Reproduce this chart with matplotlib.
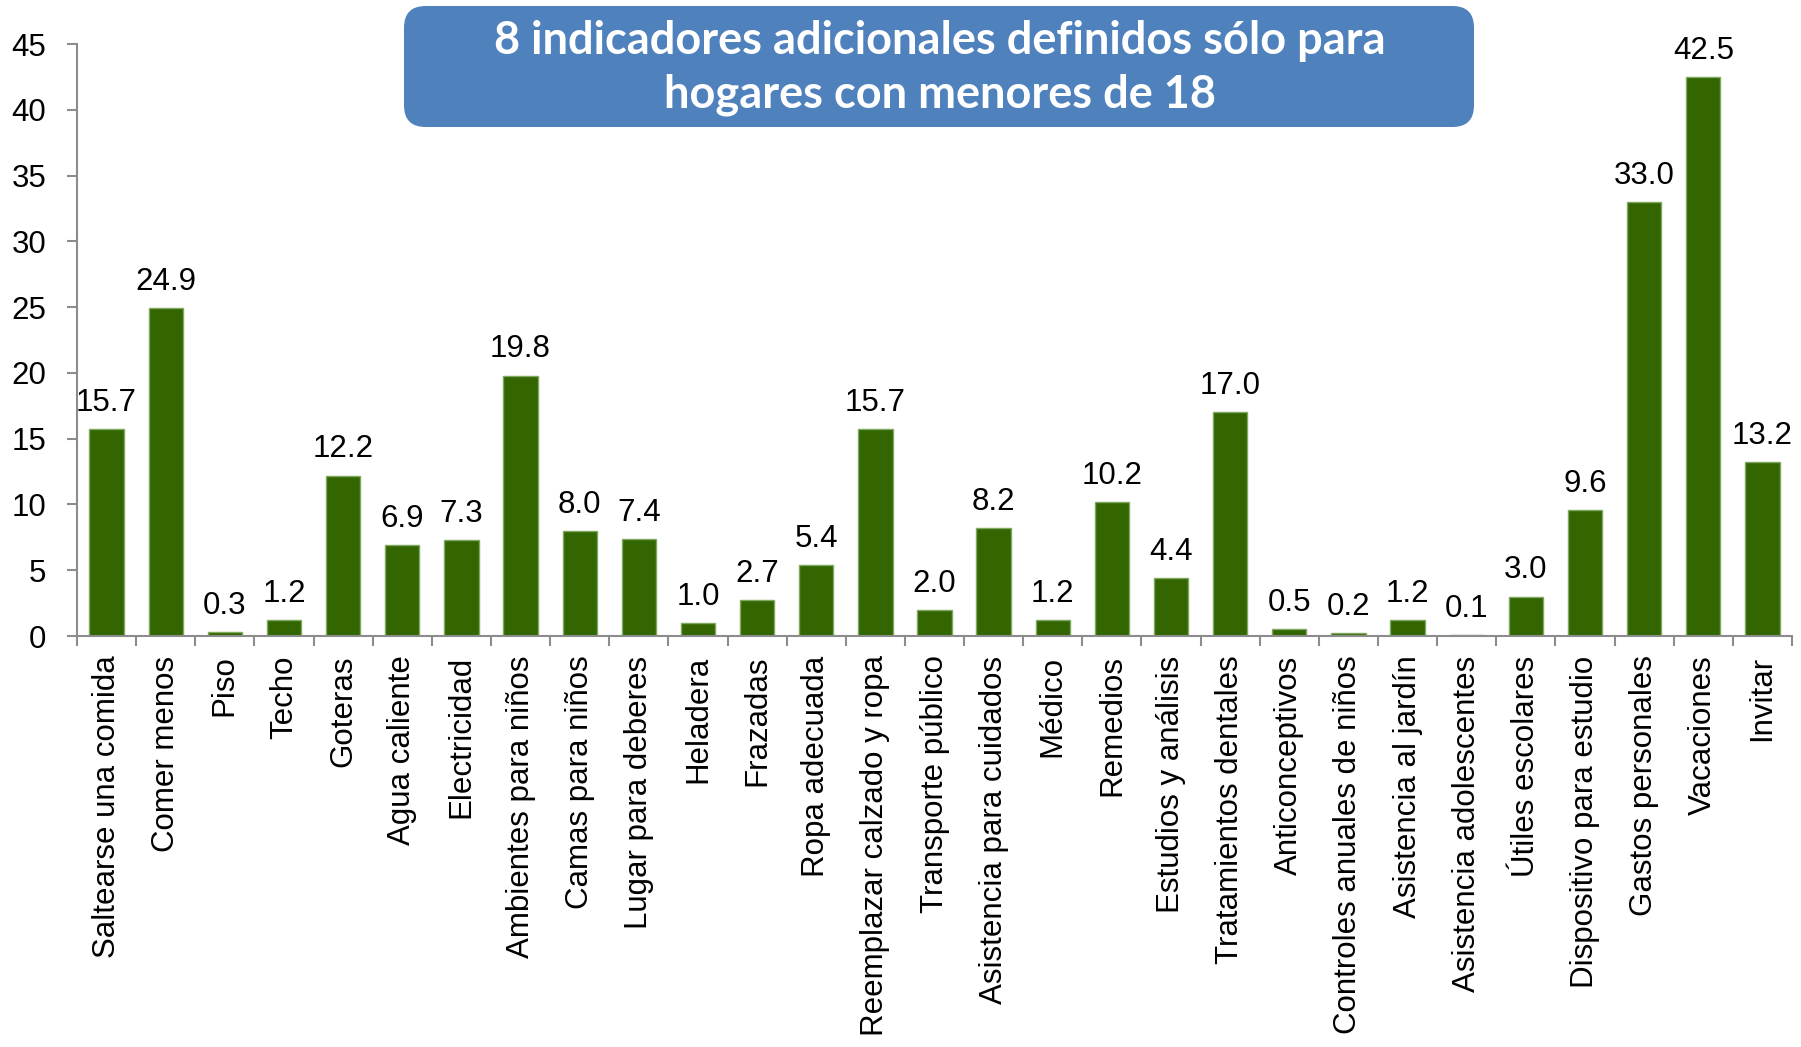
import numpy as np
from matplotlib import pyplot as plt
from matplotlib.patches import FancyBboxPatch

categorias = ['Saltearse una comida', 'Comer menos', 'Piso', 'Techo', 'Goteras',
              'Agua caliente', 'Electricidad', 'Ambientes para niños', 'Camas para niños',
              'Lugar para deberes', 'Heladera', 'Frazadas', 'Ropa adecuada',
              'Reemplazar calzado y ropa', 'Transporte público', 'Asistencia para cuidados',
              'Médico', 'Remedios', 'Estudios y análisis', 'Tratamientos dentales',
              'Anticonceptivos', 'Controles anuales de niños', 'Asistencia al jardín',
              'Asistencia adolescentes', 'Útiles escolares', 'Dispositivo para estudio',
              'Gastos personales', 'Vacaciones', 'Invitar']
valores = [15.7, 24.9, 0.3, 1.2, 12.2, 6.9, 7.3, 19.8, 8.0, 7.4, 1.0, 2.7, 5.4, 15.7,
           2.0, 8.2, 1.2, 10.2, 4.4, 17.0, 0.5, 0.2, 1.2, 0.1, 3.0, 9.6, 33.0, 42.5, 13.2]
yticks = [0, 5, 10, 15, 20, 25, 30, 35, 40, 45]
titulo = '8 indicadores adicionales definidos sólo para\nhogares con menores de 18'

plt.rcParams['font.family'] = ['Liberation Sans', 'DejaVu Sans']

fig = plt.figure(figsize=(18.01, 10.47), dpi=100)
ax = fig.add_axes([77 / 1801, 1 - 636 / 1047, (1792 - 77) / 1801, (636 - 44) / 1047])

x = np.arange(len(categorias))
bars = ax.bar(x, valores, width=0.58, color='#336600', edgecolor='#7fa860', linewidth=1)

for xi, v in zip(x, valores):
    ax.annotate('%.1f' % v, (xi, v), xytext=(0, 8), textcoords='offset points',
                ha='center', va='bottom', fontsize=22.5, color='black')

ax.set_xlim(-0.5, len(categorias) - 0.5)
ax.set_ylim(0, 45)
ax.set_yticks(yticks)
ax.set_xticks(np.arange(len(categorias) + 1) - 0.5, minor=False)
ax.set_xticklabels([])
ax.set_xticks(x, minor=True)
ax.set_xticklabels(categorias, minor=True, rotation=90, fontsize=22.5, va='top', ha='center')
ax.tick_params(axis='x', which='major', length=7, width=1.5, color='#8c8c8c', direction='out')
ax.tick_params(axis='x', which='minor', length=0, pad=14)
ax.tick_params(axis='y', length=7, width=1.5, color='#8c8c8c', labelsize=22.5, pad=15)

for s in ['top', 'right']:
    ax.spines[s].set_visible(False)
for s in ['left', 'bottom']:
    ax.spines[s].set_color('#8c8c8c')
    ax.spines[s].set_linewidth(1.5)

# caja del titulo
box = FancyBboxPatch((404 / 1801, 1 - 127 / 1047), (1474 - 404) / 1801, (127 - 6) / 1047,
                     boxstyle='round,pad=0,rounding_size=0.012', transform=fig.transFigure,
                     facecolor='#4f81bd', edgecolor='none', mutation_aspect=1801 / 1047)
fig.patches.append(box)
fig.text(940 / 1801, 1 - 68 / 1047, titulo, ha='center', va='center', color='white',
         fontsize=32.5, fontweight='bold', family=['Lato', 'DejaVu Sans'], linespacing=1.35)

fig.savefig('out.png', dpi=100)
